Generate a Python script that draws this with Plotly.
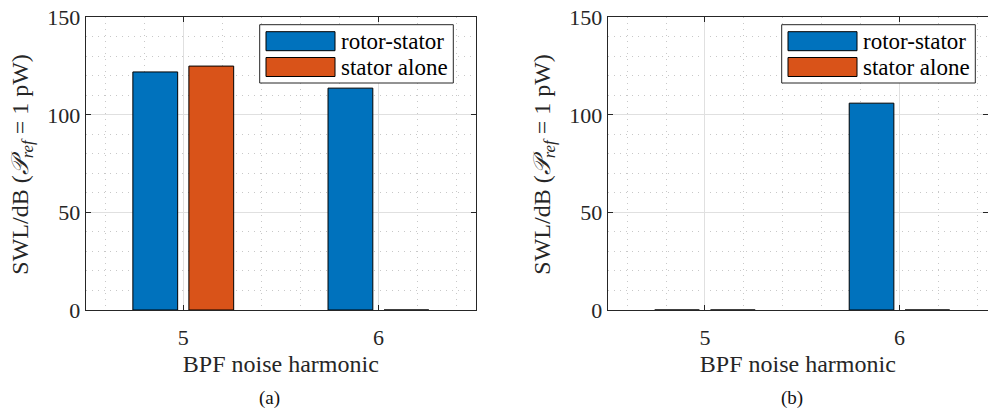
import plotly.graph_objects as go

# ---------------- data ----------------
harmonics = [5, 6]
series_names = ["rotor-stator", "stator alone"]
rs_a = [122, 113.7]      # panel (a) rotor-stator
sa_a = [125, 0]          # panel (a) stator alone
rs_b = [0, 106]          # panel (b) rotor-stator
sa_b = [0, 0]            # panel (b) stator alone
y_ticks = [0, 50, 100, 150]
x_ticks = [5, 6]
captions = ["(a)", "(b)"]

colors = ["#0072BD", "#D95319"]
W, H = 988, 411
FONT = "Liberation Serif"
AXC = "#262626"
MINOR = "#c8c8c8"

def px(x):
    return x / W

def py(y):
    return 1 - y / H

fig = go.Figure()

panels = [("x", "y", rs_a, sa_a), ("x2", "y2", rs_b, sa_b)]
for xa, ya, rs, sa in panels:
    for name, vals, c in zip(series_names, [rs, sa], colors):
        fig.add_trace(go.Bar(
            x=harmonics, y=vals, name=name, xaxis=xa, yaxis=ya,
            marker=dict(color=c, line=dict(color="#000000", width=1)),
            showlegend=False,
        ))

ydom = [py(310), py(17.3)]
xdomA = [px(85.7), px(476)]
xdomB = [px(607.7), 1.0]

common_x = dict(
    tickvals=x_ticks, ticktext=[str(v) for v in x_ticks],
    ticks="inside", ticklen=5, tickcolor=AXC, tickwidth=1,
    showline=True, linecolor=AXC, linewidth=1, mirror="ticks",
    showgrid=True, gridcolor="#e0e0e0", gridwidth=1,
    zeroline=False, automargin=False,
    tickfont=dict(family=FONT, size=22, color=AXC),
    ticklabelstandoff=8,
    minor=dict(dtick=0.2, tick0=5, showgrid=True, gridcolor=MINOR,
               griddash="1px,5px", gridwidth=1, ticks=""),
    title=dict(text="BPF noise harmonic", font=dict(family=FONT, size=24, color=AXC),
               standoff=5),
)
common_y = dict(
    range=[0, 150], tickvals=y_ticks,
    ticks="inside", ticklen=5, tickcolor=AXC, tickwidth=1,
    showline=True, linecolor=AXC, linewidth=1, mirror="ticks",
    showgrid=True, gridcolor="#e0e0e0", gridwidth=1,
    zeroline=False, automargin=False, domain=ydom,
    tickfont=dict(family=FONT, size=22, color=AXC),
    minor=dict(dtick=10, tick0=0, showgrid=True, gridcolor=MINOR,
               griddash="1px,5px", gridwidth=1, ticks=""),
)

fig.update_layout(
    width=W, height=H,
    margin=dict(l=0, r=0, t=0, b=0),
    paper_bgcolor="white", plot_bgcolor="white",
    barmode="group", bargap=0.426, bargroupgap=0.2,
    showlegend=False,
    xaxis=dict(common_x, domain=xdomA, range=[4.5, 6.5], anchor="y"),
    yaxis=dict(common_y, anchor="x"),
    xaxis2=dict(common_x, domain=xdomB, range=[4.5, 4.5 + (W - 607.7) / 194.5], anchor="y2"),
    yaxis2=dict(common_y, anchor="x2"),
)

ytitle = "SWL/dB (<i>𝒫</i><sub><i>ref</i></sub> = 1 pW)"
shapes = []
annotations = []
for i, (ax_left, cap_x) in enumerate([(85.7, 269), (607.7, 791.7)]):
    # y-axis title
    annotations.append(dict(
        x=px(ax_left - 64), y=py(164), xref="paper", yref="paper",
        text=ytitle, textangle=-90, showarrow=False,
        font=dict(family=FONT, size=24, color=AXC),
        xanchor="center", yanchor="middle",
    ))
    # caption
    annotations.append(dict(
        x=px(cap_x), y=py(397.7), xref="paper", yref="paper",
        text=captions[i], showarrow=False,
        font=dict(family=FONT, size=19, color="#111111"),
        xanchor="center", yanchor="middle",
    ))
    # legend box
    off = ax_left - 85.7
    shapes.append(dict(type="rect", xref="paper", yref="paper",
                       x0=px(259.7 + off), x1=px(453.3 + off),
                       y0=py(83), y1=py(24.7),
                       line=dict(color=AXC, width=1), fillcolor="white", layer="above"))
    for k, (name, c) in enumerate(zip(series_names, colors)):
        top = 31.7 + k * 25.8
        shapes.append(dict(type="rect", xref="paper", yref="paper",
                           x0=px(266 + off), x1=px(335 + off),
                           y0=py(top + 19), y1=py(top),
                           line=dict(color="#000000", width=1), fillcolor=c, layer="above"))
        annotations.append(dict(
            x=px(339 + off), y=py(top + 9.5), xref="paper", yref="paper",
            text=name, showarrow=False, xanchor="left", yanchor="middle",
            font=dict(family=FONT, size=23, color="#000000"),
        ))

fig.update_layout(shapes=shapes, annotations=annotations)
fig.write_html("out.html")
